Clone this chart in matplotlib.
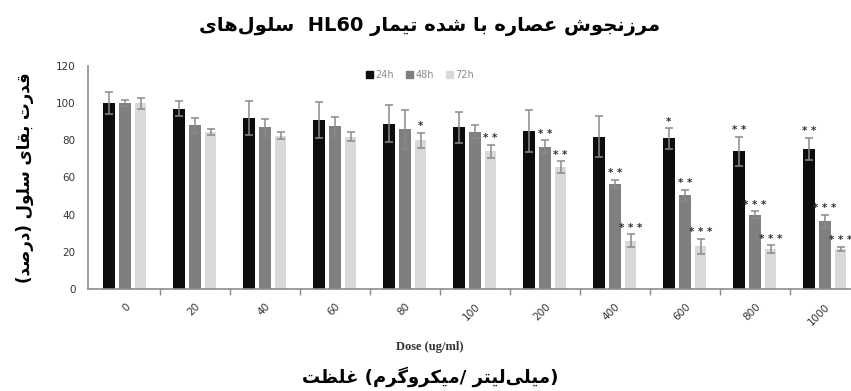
import matplotlib
matplotlib.use("Agg")
import matplotlib.pyplot as plt
import numpy as np
from matplotlib.patches import Patch

# ---------------- data ----------------
doses = ["0", "20", "40", "60", "80", "100", "200", "400", "600", "800", "1000"]
series = ["24h", "48h", "72h"]
m24 = [100, 97, 92, 91, 89, 87, 85, 82, 81, 74, 75.5]
m48 = [100, 88, 87, 87.5, 86, 84.5, 76.5, 56.5, 50.5, 40, 36.5]
m72 = [100, 84.5, 82.5, 82, 80, 74, 65.5, 26, 23, 21.5, 21.5]
e24 = [6, 4, 9, 9.5, 10, 8.5, 11.5, 11, 5.5, 8, 6]
e48 = [1.5, 4, 4.5, 5, 10.5, 3.5, 3.5, 2.3, 3, 1.8, 3.5]
e72 = [3, 1.5, 2, 2.5, 4, 3.5, 3.3, 3.5, 4, 2, 1.2]
sig24 = ["", "", "", "", "", "", "", "", "*", "**", "**"]
sig48 = ["", "", "", "", "", "", "**", "**", "**", "***", "***"]
sig72 = ["", "", "", "", "*", "**", "**", "***", "***", "***", "***"]

title_words = ["سلول\u200cهای", "HL60", "تیمار", "شده", "با", "عصاره", "مرزنجوش"]
ylabel_words = ["قدرت", "بقای", "سلول", "درصد"]
xlabel_en = "Dose (ug/ml)"
xlabel_fa_words = ["غلظت", "میکروگرم", "میلی\u200cلیتر"]

# ---------------- minimal Arabic/Persian shaping ----------------
FORMS = {
    '\u0627': ('\uFE8D', '\uFE8E', None, None),
    '\u0628': ('\uFE8F', '\uFE90', '\uFE91', '\uFE92'),
    '\u062A': ('\uFE95', '\uFE96', '\uFE97', '\uFE98'),
    '\u062C': ('\uFE9D', '\uFE9E', '\uFE9F', '\uFEA0'),
    '\u062F': ('\uFEA9', '\uFEAA', None, None),
    '\u0631': ('\uFEAD', '\uFEAE', None, None),
    '\u0632': ('\uFEAF', '\uFEB0', None, None),
    '\u0633': ('\uFEB1', '\uFEB2', '\uFEB3', '\uFEB4'),
    '\u0634': ('\uFEB5', '\uFEB6', '\uFEB7', '\uFEB8'),
    '\u0635': ('\uFEB9', '\uFEBA', '\uFEBB', '\uFEBC'),
    '\u0638': ('\uFEC5', '\uFEC6', '\uFEC7', '\uFEC8'),
    '\u0639': ('\uFEC9', '\uFECA', '\uFECB', '\uFECC'),
    '\u063A': ('\uFECD', '\uFECE', '\uFECF', '\uFED0'),
    '\u0642': ('\uFED5', '\uFED6', '\uFED7', '\uFED8'),
    '\u0644': ('\uFEDD', '\uFEDE', '\uFEDF', '\uFEE0'),
    '\u0645': ('\uFEE1', '\uFEE2', '\uFEE3', '\uFEE4'),
    '\u0646': ('\uFEE5', '\uFEE6', '\uFEE7', '\uFEE8'),
    '\u0647': ('\uFEE9', '\uFEEA', '\uFEEB', '\uFEEC'),
    '\u0648': ('\uFEED', '\uFEEE', None, None),
    '\u06A9': ('\uFB8E', '\uFB8F', '\uFB90', '\uFB91'),
    '\u06AF': ('\uFB92', '\uFB93', '\uFB94', '\uFB95'),
    '\u06CC': ('\uFBFC', '\uFBFD', '\uFBFE', '\uFBFF'),
}


def shape(word):
    chars = list(word)
    n = len(chars)
    out = []
    for i, c in enumerate(chars):
        if c not in FORMS:
            if c != '\u200c':
                out.append(c)
            continue
        prev = chars[i - 1] if i > 0 else None
        nxt = chars[i + 1] if i < n - 1 else None
        jp = prev in FORMS and FORMS[prev][2] is not None
        jn = nxt in FORMS and FORMS[c][2] is not None
        iso, fin, ini, med = FORMS[c]
        out.append(med if (jp and jn) else fin if jp else ini if jn else iso)
    if all(ch.isascii() for ch in out):
        return ''.join(out)
    return ''.join(reversed(out))


title_txt = shape(title_words[0]) + "  " + title_words[1] + " " + \
    " ".join(shape(w) for w in title_words[2:])
ylabel_txt = "(" + shape(ylabel_words[3]) + ") " + " ".join(shape(w) for w in ylabel_words[2::-1])
xlabel_fa_txt = shape(xlabel_fa_words[0]) + " (" + shape(xlabel_fa_words[1]) + "/ " + \
    shape(xlabel_fa_words[2]) + ")"

# ---------------- figure ----------------
W, H = 851, 391
fig = plt.figure(figsize=(W / 100, H / 100), dpi=100)
ax_left, ax_right, ax_top, ax_bot = 88, 851, 66, 289
ax = fig.add_axes([ax_left / W, 1 - ax_bot / H, (ax_right - ax_left) / W, (ax_bot - ax_top) / H])

colors = ["#0d0d0d", "#7f7f7f", "#d9d9d9"]
means = [m24, m48, m72]
errs = [e24, e48, e72]
sigs = [sig24, sig48, sig72]
x = np.arange(len(doses))
bw = 0.17
offs = [-0.23, 0, 0.22]
for k in range(3):
    ax.bar(x + offs[k], means[k], width=bw, color=colors[k], label=series[k], zorder=2)
    ax.errorbar(x + offs[k], means[k], yerr=errs[k], fmt='none', ecolor="#8a8a8a",
                elinewidth=1.1, capsize=3, capthick=1.1, zorder=3)
    for i in range(len(doses)):
        s = sigs[k][i]
        if s:
            ax.text(x[i] + offs[k], means[k][i] + errs[k][i] + 0.8, " ".join(s),
                    ha='center', va='bottom', fontsize=7.5, color="#333333",
                    fontweight='bold', clip_on=False)

ax.set_xlim(-0.53, 10.37)
ax.set_ylim(0, 120)
ax.set_yticks(np.arange(0, 121, 20))
ax.tick_params(axis='y', length=0, labelsize=7.5, labelcolor="#353535", pad=9)
ax.set_xticks(x)
ax.set_xticklabels(doses, rotation=45, ha='right', va='top', rotation_mode='anchor',
                   fontsize=7.5, color="#353535")
ax.tick_params(axis='x', which='major', length=0, pad=9)
ax.set_xticks(np.arange(0.5, 10.5, 1), minor=True)
ax.tick_params(axis='x', which='minor', length=4, color="#8c8c8c", width=1)
for s in ["top", "right"]:
    ax.spines[s].set_visible(False)
for s in ["left", "bottom"]:
    ax.spines[s].set_color("#8c8c8c")
    ax.spines[s].set_linewidth(1.2)

leg = ax.legend(handles=[Patch(color=c) for c in colors], labels=series, ncol=3,
                loc='center', bbox_to_anchor=((420 - ax_left) / (ax_right - ax_left),
                                              1 - (75 - ax_top) / (ax_bot - ax_top)),
                frameon=False, fontsize=7, handlelength=0.7, handleheight=0.7,
                handletextpad=0.3, columnspacing=1.2, labelcolor="#8c8c8c")

fig.text(430 / W, 1 - 26 / H, title_txt, ha='center', va='center', fontsize=14,
         fontweight='bold', family='DejaVu Sans')
fig.text(25 / W, 1 - 178 / H, ylabel_txt, ha='center', va='center', rotation=90,
         fontsize=12, fontweight='bold', family='DejaVu Sans')
fig.text(430 / W, 1 - 347 / H, xlabel_en, ha='center', va='center', fontsize=9,
         fontweight='bold', family='Liberation Serif', color="#333333")
fig.text(430 / W, 1 - 377 / H, xlabel_fa_txt, ha='center', va='center', fontsize=13,
         fontweight='bold', family='DejaVu Sans')

fig.savefig("out.png", dpi=100)
